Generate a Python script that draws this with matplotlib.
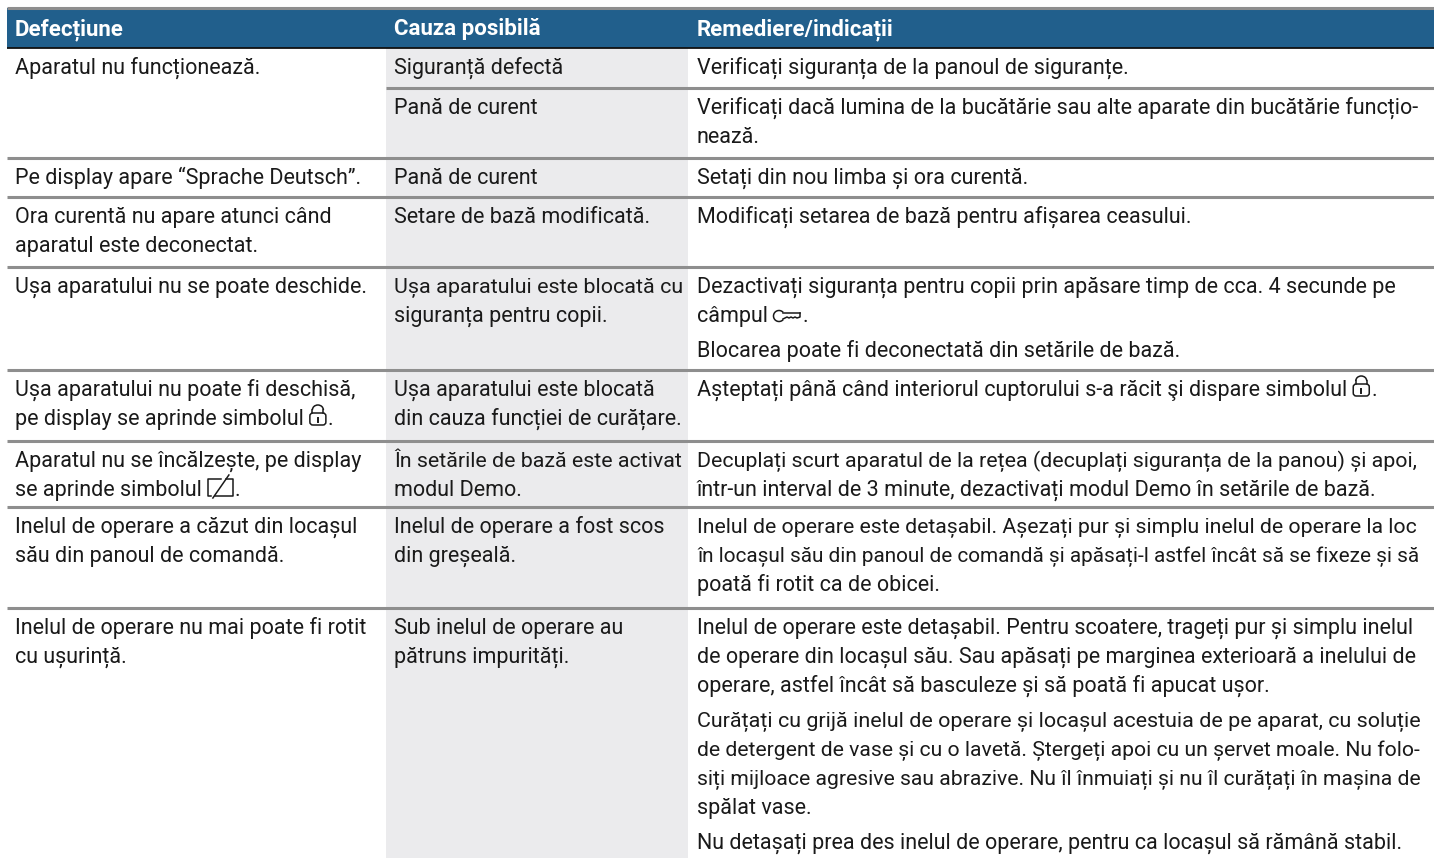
import matplotlib
matplotlib.use('Agg')
import matplotlib.pyplot as plt
from matplotlib.patches import Rectangle, FancyBboxPatch, Arc

W, H = 1434, 858
FONT = ['Roboto', 'Liberation Sans', 'DejaVu Sans']
FS = 15.5
BLUE = '#215f8c'
GREY = '#ebebed'
RULE = '#8e8e8e'
INK = '#1a1a1a'

headers = ['Defecțiune', 'Cauza posibilă', 'Remediere/indicații']

# each cell is a list of paragraphs, each paragraph a list of lines
# {lock} {key} {demo} stand for the little display symbols
col_defect = [
    [['Aparatul nu funcționează.']],
    [['Pe display apare “Sprache Deutsch”.']],
    [['Ora curentă nu apare atunci când', 'aparatul este deconectat.']],
    [['Ușa aparatului nu se poate deschide.']],
    [['Ușa aparatului nu poate fi deschisă,', 'pe display se aprinde simbolul {lock}.']],
    [['Aparatul nu se încălzește, pe display', 'se aprinde simbolul {demo}.']],
    [['Inelul de operare a căzut din locașul', 'său din panoul de comandă.']],
    [['Inelul de operare nu mai poate fi rotit', 'cu ușurință.']],
]
col_cause = [
    [['Siguranță defectă']],
    [['Pană de curent']],
    [['Pană de curent']],
    [['Setare de bază modificată.']],
    [['Ușa aparatului este blocată cu', 'siguranța pentru copii.']],
    [['Ușa aparatului este blocată', 'din cauza funcției de curățare.']],
    [['În setările de bază este activat', 'modul Demo.']],
    [['Inelul de operare a fost scos', 'din greșeală.']],
    [['Sub inelul de operare au', 'pătruns impurități.']],
]
col_fix = [
    [['Verificați siguranța de la panoul de siguranțe.']],
    [['Verificați dacă lumina de la bucătărie sau alte aparate din bucătărie funcțio-', 'nează.']],
    [['Setați din nou limba și ora curentă.']],
    [['Modificați setarea de bază pentru afișarea ceasului.']],
    [['Dezactivați siguranța pentru copii prin apăsare timp de cca. 4 secunde pe', 'câmpul {key}.'],
     ['Blocarea poate fi deconectată din setările de bază.']],
    [['Așteptați până când interiorul cuptorului s-a răcit şi dispare simbolul {lock}.']],
    [['Decuplați scurt aparatul de la rețea (decuplați siguranța de la panou) și apoi,',
      'într-un interval de 3 minute, dezactivați modul Demo în setările de bază.']],
    [['Inelul de operare este detașabil. Așezați pur și simplu inelul de operare la loc',
      'în locașul său din panoul de comandă și apăsați-l astfel încât să se fixeze și să',
      'poată fi rotit ca de obicei.']],
    [['Inelul de operare este detașabil. Pentru scoatere, trageți pur și simplu inelul',
      'de operare din locașul său. Sau apăsați pe marginea exterioară a inelului de',
      'operare, astfel încât să basculeze și să poată fi apucat ușor.'],
     ['Curățați cu grijă inelul de operare și locașul acestuia de pe aparat, cu soluție',
      'de detergent de vase și cu o lavetă. Ștergeți apoi cu un șervet moale. Nu folo-',
      'siți mijloace agresive sau abrazive. Nu îl înmuiați și nu îl curățați în mașina de',
      'spălat vase.'],
     ['Nu detașați prea des inelul de operare, pentru ca locașul să rămână stabil.']],
]

# layout in pixels
COL_X = [15, 394, 697]
COL_RIGHT = [372, 682, 1418]
GREY_X = (386, 688)
TOP = 8
HEAD_BOTTOM = 48
defect_tops = [48, 158, 197, 267, 370, 441, 507, 608]
cause_tops = [48, 88, 158, 197, 267, 370, 441, 507, 608]
LINE = 29
PARA = 35
FIRST = 26

fig = plt.figure(figsize=(W / 100, H / 100), dpi=100)
ax = fig.add_axes([0, 0, 1, 1])
ax.set_xlim(0, W)
ax.set_ylim(H, 0)
ax.axis('off')
renderer = fig.canvas.get_renderer()

ax.add_patch(Rectangle((GREY_X[0], HEAD_BOTTOM), GREY_X[1] - GREY_X[0], H - HEAD_BOTTOM, color=GREY, lw=0, zorder=1))
ax.add_patch(Rectangle((7, TOP), W - 7, HEAD_BOTTOM - TOP, color=BLUE, lw=0, zorder=1))
ax.plot([7, W], [TOP, TOP], color=RULE, lw=2.2, zorder=2, solid_capstyle='butt')
ax.plot([7, W], [HEAD_BOTTOM, HEAD_BOTTOM], color='#111111', lw=1.3, zorder=2, solid_capstyle='butt')
for y in defect_tops[1:]:
    ax.plot([7, W], [y, y], color=RULE, lw=2.2, zorder=2, solid_capstyle='butt')
ax.plot([GREY_X[0], W], [cause_tops[1], cause_tops[1]], color=RULE, lw=2.2, zorder=2, solid_capstyle='butt')

for x, label in zip(COL_X, headers):
    ax.text(x, 35, label, color='white', fontsize=16, fontweight='bold', family=FONT, va='baseline', zorder=3)


def lock(x, y):
    ax.add_patch(FancyBboxPatch((x + 1, y - 12), 16, 12, boxstyle='round,pad=0,rounding_size=3', fc='none', ec=INK, lw=1.1, zorder=3))
    ax.add_patch(Arc((x + 9, y - 15), 11, 10, theta1=180, theta2=360, ec=INK, lw=1.1, zorder=3))
    ax.plot([x + 3.5, x + 3.5], [y - 15, y - 12], color=INK, lw=1.1, zorder=3)
    ax.plot([x + 14.5, x + 14.5], [y - 15, y - 12], color=INK, lw=1.1, zorder=3)
    ax.plot([x + 9, x + 9], [y - 7, y - 3], color=INK, lw=1.4, zorder=3)
    return 18


def key(x, y):
    ax.add_patch(Arc((x + 6, y - 6), 11, 11, theta1=40, theta2=320, ec=INK, lw=1.1, zorder=3))
    ax.plot([x + 10, x + 27], [y - 9, y - 9], color=INK, lw=1.1, zorder=3)
    ax.plot([x + 10, x + 14, x + 16, x + 18, x + 20, x + 22, x + 24, x + 27, x + 27],
            [y - 3, y - 5, y - 4, y - 5, y - 4, y - 5, y - 4, y - 5, y - 9], color=INK, lw=1.1, zorder=3)
    return 28


def demo(x, y):
    ax.plot([x + 14, x + 1, x + 1, x + 4], [y - 17, y - 17, y, y], color=INK, lw=1.1, zorder=3)
    ax.plot([x + 19, x + 26, x + 26, x + 8], [y - 17, y - 17, y, y], color=INK, lw=1.1, zorder=3)
    ax.plot([x + 6, x + 22], [y + 2, y - 21], color=INK, lw=1.1, zorder=3)
    return 27


SYMBOLS = {'{lock}': lock, '{key}': key, '{demo}': demo}


def put_line(x, y, line, right):
    for tag, draw in SYMBOLS.items():
        if tag in line:
            head, tail = line.split(tag)
            t = ax.text(x, y, head.rstrip(), fontsize=FS, color=INK, family=FONT, va='baseline', zorder=3)
            x2 = t.get_window_extent(renderer).x1 + 5
            x2 += draw(x2, y)
            ax.text(x2 + 1, y, tail, fontsize=FS, color=INK, family=FONT, va='baseline', zorder=3)
            return
    t = ax.text(x, y, line, fontsize=FS, color=INK, family=FONT, va='baseline', zorder=3)
    # long lines are squeezed a bit so they stay inside the column
    end = t.get_window_extent(renderer).x1
    if end > right:
        t.set_fontsize(FS * (right - x) / (end - x))


def put_column(x, right, tops, cells):
    for top, cell in zip(tops, cells):
        y = top + FIRST
        for p, para in enumerate(cell):
            if p:
                y += PARA - LINE
            for line in para:
                put_line(x, y, line, right)
                y += LINE


put_column(COL_X[0], COL_RIGHT[0], defect_tops, col_defect)
put_column(COL_X[1], COL_RIGHT[1], cause_tops, col_cause)
put_column(COL_X[2], COL_RIGHT[2], cause_tops, col_fix)

fig.savefig('out.png', dpi=100)
